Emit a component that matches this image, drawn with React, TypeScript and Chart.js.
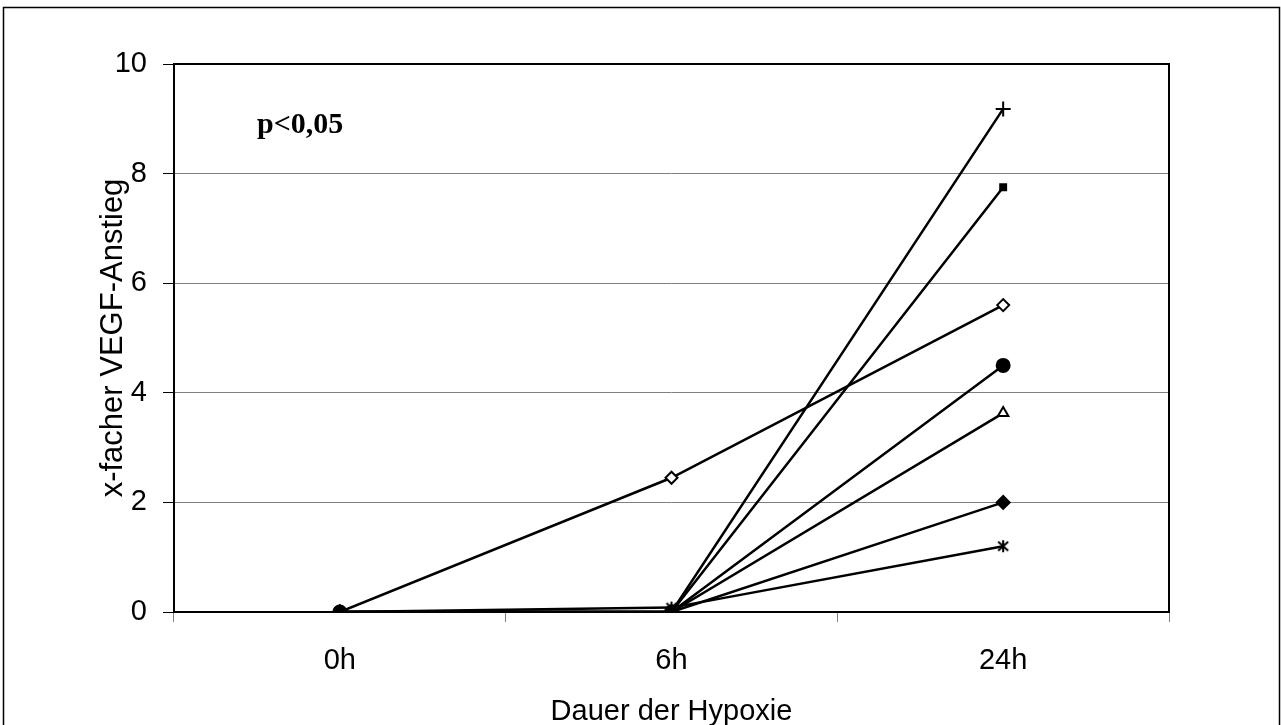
import React, { useEffect, useRef } from "react";
import { Chart, registerables } from "chart.js";

Chart.register(...registerables);

const categories = ["0h", "6h", "24h"];
const plusSeries = [0, 0, 9.18];
const squareSeries = [0, 0, 7.75];
const openDiamondSeries = [0, 2.45, 5.6];
const circleSeries = [0, 0, 4.5];
const triangleSeries = [0, 0, 3.63];
const filledDiamondSeries = [0, 0, 2.0];
const asteriskSeries = [0, 0.08, 1.2];
const yTicks = [0, 2, 4, 6, 8, 10];

const FONT = "'Liberation Sans', Arial, sans-serif";

function makeAsterisk(): HTMLCanvasElement {
  const c = document.createElement("canvas");
  c.width = 16;
  c.height = 16;
  const ctx = c.getContext("2d")!;
  ctx.strokeStyle = "#000";
  ctx.lineWidth = 2;
  ctx.beginPath();
  ctx.moveTo(8, 2);
  ctx.lineTo(8, 14);
  ctx.moveTo(3, 3.5);
  ctx.lineTo(13, 12.5);
  ctx.moveTo(13, 3.5);
  ctx.lineTo(3, 12.5);
  ctx.stroke();
  return c;
}

const framePlugin = {
  id: "frame",
  beforeDraw(chart: any) {
    const ctx = chart.ctx;
    ctx.save();
    ctx.fillStyle = "#fff";
    ctx.fillRect(0, 0, chart.width, chart.height);
    ctx.strokeStyle = "#000";
    ctx.lineWidth = 1.5;
    ctx.strokeRect(3.5, 7.5, 1276, 730);
    ctx.restore();
  },
  afterDatasetsDraw(chart: any) {
    const { ctx, chartArea } = chart;
    ctx.save();
    ctx.strokeStyle = "#000";
    ctx.lineWidth = 2;
    ctx.strokeRect(chartArea.left, chartArea.top, chartArea.right - chartArea.left, chartArea.bottom - chartArea.top);
    ctx.font = "bold 30px 'Liberation Serif', 'Times New Roman', serif";
    ctx.fillStyle = "#000";
    ctx.textBaseline = "middle";
    ctx.textAlign = "left";
    ctx.fillText("p<0,05", 257, 125);
    ctx.restore();
  },
};

export default function App() {
  const ref = useRef<HTMLCanvasElement>(null);
  useEffect(() => {
    if (!ref.current) return;
    const common = {
      borderColor: "#000",
      borderWidth: 2.5,
      pointBorderColor: "#000",
      pointBorderWidth: 2,
      fill: false,
      tension: 0,
    };
    const chart = new Chart(ref.current, {
      type: "line",
      data: {
        labels: categories,
        datasets: [
          { ...common, data: plusSeries, pointStyle: "cross", pointRadius: 7.5, pointBackgroundColor: "#000" },
          { ...common, data: squareSeries, pointStyle: "rect", pointRadius: 4.2, pointBackgroundColor: "#000" },
          { ...common, data: openDiamondSeries, pointStyle: "rectRot", pointRadius: 6, pointBackgroundColor: "#fff" },
          { ...common, data: circleSeries, pointStyle: "circle", pointRadius: 6.5, pointBackgroundColor: "#000" },
          { ...common, data: triangleSeries, pointStyle: "triangle", pointRadius: 6, pointBackgroundColor: "#fff" },
          { ...common, data: filledDiamondSeries, pointStyle: "rectRot", pointRadius: 6.5, pointBackgroundColor: "#000" },
          { ...common, data: asteriskSeries, pointStyle: makeAsterisk() as any, pointRadius: 6, pointBackgroundColor: "#000" },
        ] as any,
      },
      options: {
        animation: false,
        responsive: false,
        events: [],
        layout: { padding: { top: 64, right: 112, left: 0, bottom: 0 } },
        plugins: { legend: { display: false }, tooltip: { enabled: false } },
        scales: {
          x: {
            type: "category",
            offset: true,
            grid: {
              offset: true,
              drawOnChartArea: false,
              drawTicks: true,
              tickLength: 10,
              tickColor: "#808080",
              tickWidth: 1,
            },
            border: { display: false },
            ticks: {
              color: "#000",
              font: { family: FONT, size: 29 },
              padding: 22,
              maxRotation: 0,
            },
            title: {
              display: true,
              text: "Dauer der Hypoxie",
              color: "#000",
              font: { family: FONT, size: 29, lineHeight: 0.83 },
              padding: { top: 0, bottom: 1 },
            },
            afterFit(scale: any) {
              scale.height = 113;
            },
          },
          y: {
            min: 0,
            max: 10,
            afterBuildTicks(scale: any) {
              scale.ticks = yTicks.map((v) => ({ value: v }));
            },
            grid: {
              color: "#808080",
              lineWidth: 1,
              tickLength: 11,
              tickColor: "#000",
              tickWidth: 1,
            },
            border: { display: false },
            ticks: {
              color: "#000",
              font: { family: FONT, size: 29 },
              padding: 16,
            },
            title: {
              display: true,
              text: "x-facher VEGF-Anstieg",
              color: "#000",
              font: { family: FONT, size: 31, lineHeight: 1 },
              padding: { top: 98, bottom: 0 },
            },
            afterFit(scale: any) {
              scale.width = 174;
            },
          },
        },
      },
      plugins: [framePlugin],
    });
    return () => chart.destroy();
  }, []);
  return (
    <div style={{ position: "fixed", left: 0, top: 0, width: 1281, height: 725 }}>
      <canvas ref={ref} width={1281} height={725} style={{ display: "block" }} />
    </div>
  );
}
